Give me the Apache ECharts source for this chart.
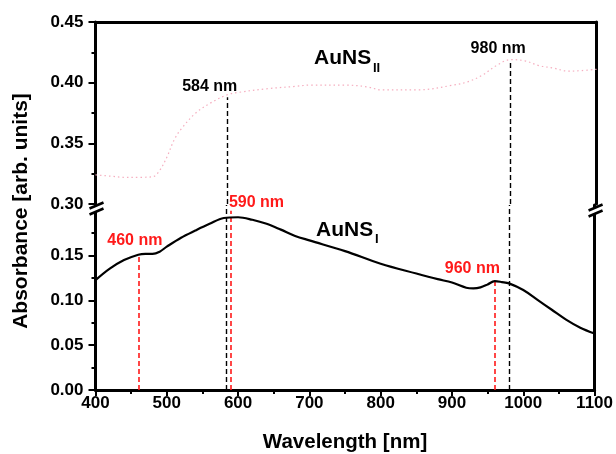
<!DOCTYPE html>
<html>
<head>
<meta charset="utf-8">
<script src="https://cdn.jsdelivr.net/npm/echarts@6/dist/echarts.min.js"></script>
<style>
html,body{margin:0;padding:0;background:#fff;}
#c{width:616px;height:454px;}
</style>
</head>
<body>
<div id="c"></div>
<script>
// ---- data ----
const wavelengthI = [400,420,440,460,470,480,490,500,520,540,560,580,600,620,640,660,680,700,750,800,850,880,900,920,930,940,950,960,970,980,1000,1020,1040,1060,1080,1100];
const absorbanceI = [0.1226,0.1354,0.145,0.151,0.152,0.152,0.1544,0.160,0.170,0.178,0.1855,0.192,0.1928,0.190,0.1855,0.179,0.172,0.167,0.155,0.141,0.130,0.1237,0.120,0.1142,0.1134,0.1145,0.1178,0.1215,0.1205,0.119,0.1116,0.1006,0.0896,0.0786,0.0695,0.063];
const wavelengthII = [400,420,440,460,480,490,500,510,520,540,560,584,600,640,680,700,750,780,800,850,900,920,940,960,980,1000,1020,1040,1060,1080,1100];
const absorbanceII = [0.324,0.323,0.322,0.322,0.3225,0.328,0.339,0.353,0.362,0.375,0.383,0.390,0.392,0.395,0.397,0.398,0.398,0.3965,0.394,0.394,0.398,0.4007,0.406,0.414,0.419,0.418,0.414,0.412,0.4095,0.410,0.411];
const xTicks = [400,500,600,700,800,900,1000,1100];
const yTicksLower = [0.00,0.05,0.10,0.15];
const yTicksUpper = [0.30,0.35,0.40,0.45];
const peaksI = [460,590,960];          // red markers (AuNS_I)
const peakValuesI = [0.151,0.200,0.1215];
const peaksII = [584,980];             // black markers (AuNS_II)
const peakValuesII = [0.388,0.4185];
const peakLabels = ['460 nm','590 nm','960 nm'];
const peakLabelsII = ['584 nm','980 nm'];

const FONT = "'Liberation Sans', Arial, Helvetica, sans-serif";
const LOWER_MAX = 0.2065;

const chart = echarts.init(document.getElementById('c'), null, {renderer:'canvas'});

const zip = (a,b)=>a.map((v,i)=>[v,b[i]]);
const dashRed = {color:'#ff1a1a', type:[5,3], width:1.6};
const dashBlack = {color:'#000', type:[5,3], width:1.4};

const lowerMarks = [];
peaksI.forEach((w,i)=>lowerMarks.push([{coord:[w,0],lineStyle:dashRed},{coord:[w,peakValuesI[i]]}]));
peaksII.forEach((w)=>lowerMarks.push([{coord:[w,0],lineStyle:dashBlack},{coord:[w,LOWER_MAX]}]));
const upperMarks = peaksII.map((w,i)=>[{coord:[w,0.30],lineStyle:dashBlack},{coord:[w,peakValuesII[i]]}]);

const tickLabelStyle = {color:'#000', fontFamily:FONT, fontWeight:'bold', fontSize:17};
const axisLineStyle = {show:true, lineStyle:{color:'#000', width:3}};

const option = {
  animation:false,
  backgroundColor:'#fff',
  grid:[
    {left:95.5, right:19.5, top:205, height:188},
    {left:95.5, right:19.5, top:22, height:182}
  ],
  xAxis:[
    {type:'value', gridIndex:0, min:400, max:1100, interval:100, position:'bottom',
     axisLine:axisLineStyle,
     axisTick:{show:true, inside:false, length:6, lineStyle:{width:2,color:'#000'}},
     minorTick:{show:true, splitNumber:2, length:4, lineStyle:{width:2,color:'#000'}},
     splitLine:{show:false}, minorSplitLine:{show:false},
     axisLabel:Object.assign({margin:5, formatter:v=>xTicks.includes(v)?String(v):''}, tickLabelStyle),
     name:'Wavelength [nm]', nameLocation:'middle', nameGap:42,
     nameTextStyle:{color:'#000', fontFamily:FONT, fontWeight:'bold', fontSize:20.5}
    },
    {type:'value', gridIndex:1, min:400, max:1100, interval:100, position:'top',
     axisLine:axisLineStyle, axisTick:{show:false}, axisLabel:{show:false}, splitLine:{show:false}}
  ],
  yAxis:[
    {type:'value', gridIndex:0, min:0, max:LOWER_MAX, interval:0.05, position:'left',
     axisLine:axisLineStyle,
     axisTick:{show:true, length:7, lineStyle:{width:2,color:'#000'}, customValues:yTicksLower},
     minorTick:{show:true, splitNumber:2, length:4, lineStyle:{width:2,color:'#000'}},
     splitLine:{show:false},
     axisLabel:Object.assign({margin:12, customValues:yTicksLower, formatter:v=>v.toFixed(2)}, tickLabelStyle)
    },
    {type:'value', gridIndex:0, min:0, max:LOWER_MAX, position:'right',
     axisLine:axisLineStyle, axisTick:{show:false}, axisLabel:{show:false}, splitLine:{show:false}},
    {type:'value', gridIndex:1, min:0.30, max:0.45, interval:0.05, position:'left',
     axisLine:axisLineStyle,
     axisTick:{show:true, length:7, lineStyle:{width:2,color:'#000'}},
     minorTick:{show:true, splitNumber:2, length:4, lineStyle:{width:2,color:'#000'}},
     splitLine:{show:false},
     axisLabel:Object.assign({margin:12, formatter:v=>v.toFixed(2)}, tickLabelStyle)
    },
    {type:'value', gridIndex:1, min:0.30, max:0.45, position:'right',
     axisLine:axisLineStyle, axisTick:{show:false}, axisLabel:{show:false}, splitLine:{show:false}}
  ],
  series:[
    {name:'AuNS_I', type:'line', xAxisIndex:0, yAxisIndex:0, data:zip(wavelengthI,absorbanceI),
     smooth:0.35, showSymbol:false, lineStyle:{color:'#000', width:2.2}, z:3,
     markLine:{silent:true, symbol:'none', label:{show:false}, data:lowerMarks, z:2}
    },
    {name:'AuNS_II', type:'line', xAxisIndex:1, yAxisIndex:2, data:zip(wavelengthII,absorbanceII),
     smooth:0.35, showSymbol:false, lineStyle:{color:'#f5aebf', width:1.2, type:[1.5,3]}, z:3,
     markLine:{silent:true, symbol:'none', label:{show:false}, data:upperMarks, z:2}
    }
  ],
  graphic:[]
};
chart.setOption(option);

// annotations, positioned through the chart's own scales
const g = [];
const txt = (x,y,text,color,size,align)=>({type:'text', x:x, y:y, z:100,
  style:{text:text, fill:color, font:'bold '+size+'px '+FONT, align:align||'left', verticalAlign:'middle'}});
function px(gi,w,v){ return chart.convertToPixel({gridIndex:gi},[w,v]); }

// red peak labels (AuNS_I)
let p = px(0,460,0.151); g.push(txt(p[0]-31,p[1]-14,peakLabels[0],'#ff1a1a',16));
p = px(0,590,0.2);       g.push(txt(p[0]-2,p[1]-8,peakLabels[1],'#ff1a1a',16));
p = px(0,960,0.1215);    g.push(txt(p[0]-50,p[1]-13,peakLabels[2],'#ff1a1a',16));
// black peak labels (AuNS_II)
p = px(1,584,0.388);     g.push(txt(p[0]-45,p[1]-11,peakLabelsII[0],'#000',16));
p = px(1,980,0.4185);    g.push(txt(p[0]-40,p[1]-12,peakLabelsII[1],'#000',16));
// series names with subscripts
g.push(txt(314,58,'AuNS','#000',21)); g.push(txt(373,68,'II','#000',13));
g.push(txt(316,230,'AuNS','#000',21)); g.push(txt(375,239,'I','#000',13));
// y axis title
g.push({type:'text', x:21, y:211, rotation:Math.PI/2, z:100,
  style:{text:'Absorbance [arb. units]', fill:'#000', font:'bold 21px '+FONT, align:'center', verticalAlign:'middle'}});

// axis break marks
function brk(x,y){
  return [
    {type:'polygon', z:200, shape:{points:[[x-7,y+1.5],[x+7,y-4.5],[x+7,y+1.5],[x-7,y+7.5]]}, style:{fill:'#fff'}},
    {type:'line', z:201, shape:{x1:x-7,y1:y+1.5,x2:x+7,y2:y-4.5}, style:{stroke:'#000', lineWidth:2.6}},
    {type:'line', z:201, shape:{x1:x-7,y1:y+7.5,x2:x+7,y2:y+1.5}, style:{stroke:'#000', lineWidth:2.6}}
  ];
}
const bl = px(0,400,LOWER_MAX), br = px(0,1100,LOWER_MAX);
g.push(...brk(bl[0]+1,bl[1]+2));
g.push(...brk(br[0]+1,br[1]+4));

chart.setOption({graphic:g});
</script>
</body>
</html>
